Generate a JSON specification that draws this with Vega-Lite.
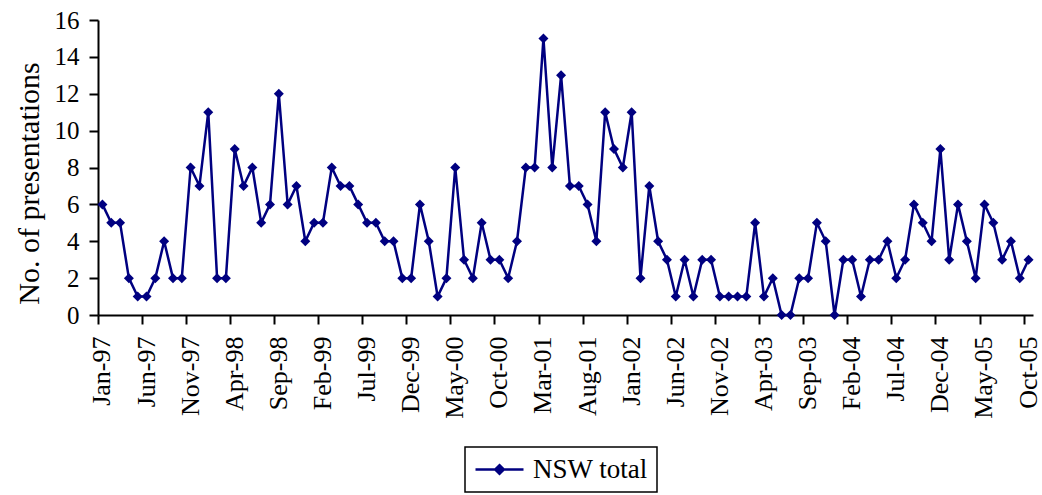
{
  "$schema": "https://vega.github.io/schema/vega-lite/v6.json",
  "width": 935,
  "height": 295,
  "autosize": "none",
  "padding": {"left": 98, "top": 20, "right": 9, "bottom": 180},
  "background": "white",
  "config": {"view": {"stroke": null}, "font": "Liberation Serif", "legend": {"strokeWidth": 1.5}},
  "data": {"values": [
    {"month":"Jan-97","value":6,"series":"NSW total"},
    {"month":"Feb-97","value":5,"series":"NSW total"},
    {"month":"Mar-97","value":5,"series":"NSW total"},
    {"month":"Apr-97","value":2,"series":"NSW total"},
    {"month":"May-97","value":1,"series":"NSW total"},
    {"month":"Jun-97","value":1,"series":"NSW total"},
    {"month":"Jul-97","value":2,"series":"NSW total"},
    {"month":"Aug-97","value":4,"series":"NSW total"},
    {"month":"Sep-97","value":2,"series":"NSW total"},
    {"month":"Oct-97","value":2,"series":"NSW total"},
    {"month":"Nov-97","value":8,"series":"NSW total"},
    {"month":"Dec-97","value":7,"series":"NSW total"},
    {"month":"Jan-98","value":11,"series":"NSW total"},
    {"month":"Feb-98","value":2,"series":"NSW total"},
    {"month":"Mar-98","value":2,"series":"NSW total"},
    {"month":"Apr-98","value":9,"series":"NSW total"},
    {"month":"May-98","value":7,"series":"NSW total"},
    {"month":"Jun-98","value":8,"series":"NSW total"},
    {"month":"Jul-98","value":5,"series":"NSW total"},
    {"month":"Aug-98","value":6,"series":"NSW total"},
    {"month":"Sep-98","value":12,"series":"NSW total"},
    {"month":"Oct-98","value":6,"series":"NSW total"},
    {"month":"Nov-98","value":7,"series":"NSW total"},
    {"month":"Dec-98","value":4,"series":"NSW total"},
    {"month":"Jan-99","value":5,"series":"NSW total"},
    {"month":"Feb-99","value":5,"series":"NSW total"},
    {"month":"Mar-99","value":8,"series":"NSW total"},
    {"month":"Apr-99","value":7,"series":"NSW total"},
    {"month":"May-99","value":7,"series":"NSW total"},
    {"month":"Jun-99","value":6,"series":"NSW total"},
    {"month":"Jul-99","value":5,"series":"NSW total"},
    {"month":"Aug-99","value":5,"series":"NSW total"},
    {"month":"Sep-99","value":4,"series":"NSW total"},
    {"month":"Oct-99","value":4,"series":"NSW total"},
    {"month":"Nov-99","value":2,"series":"NSW total"},
    {"month":"Dec-99","value":2,"series":"NSW total"},
    {"month":"Jan-00","value":6,"series":"NSW total"},
    {"month":"Feb-00","value":4,"series":"NSW total"},
    {"month":"Mar-00","value":1,"series":"NSW total"},
    {"month":"Apr-00","value":2,"series":"NSW total"},
    {"month":"May-00","value":8,"series":"NSW total"},
    {"month":"Jun-00","value":3,"series":"NSW total"},
    {"month":"Jul-00","value":2,"series":"NSW total"},
    {"month":"Aug-00","value":5,"series":"NSW total"},
    {"month":"Sep-00","value":3,"series":"NSW total"},
    {"month":"Oct-00","value":3,"series":"NSW total"},
    {"month":"Nov-00","value":2,"series":"NSW total"},
    {"month":"Dec-00","value":4,"series":"NSW total"},
    {"month":"Jan-01","value":8,"series":"NSW total"},
    {"month":"Feb-01","value":8,"series":"NSW total"},
    {"month":"Mar-01","value":15,"series":"NSW total"},
    {"month":"Apr-01","value":8,"series":"NSW total"},
    {"month":"May-01","value":13,"series":"NSW total"},
    {"month":"Jun-01","value":7,"series":"NSW total"},
    {"month":"Jul-01","value":7,"series":"NSW total"},
    {"month":"Aug-01","value":6,"series":"NSW total"},
    {"month":"Sep-01","value":4,"series":"NSW total"},
    {"month":"Oct-01","value":11,"series":"NSW total"},
    {"month":"Nov-01","value":9,"series":"NSW total"},
    {"month":"Dec-01","value":8,"series":"NSW total"},
    {"month":"Jan-02","value":11,"series":"NSW total"},
    {"month":"Feb-02","value":2,"series":"NSW total"},
    {"month":"Mar-02","value":7,"series":"NSW total"},
    {"month":"Apr-02","value":4,"series":"NSW total"},
    {"month":"May-02","value":3,"series":"NSW total"},
    {"month":"Jun-02","value":1,"series":"NSW total"},
    {"month":"Jul-02","value":3,"series":"NSW total"},
    {"month":"Aug-02","value":1,"series":"NSW total"},
    {"month":"Sep-02","value":3,"series":"NSW total"},
    {"month":"Oct-02","value":3,"series":"NSW total"},
    {"month":"Nov-02","value":1,"series":"NSW total"},
    {"month":"Dec-02","value":1,"series":"NSW total"},
    {"month":"Jan-03","value":1,"series":"NSW total"},
    {"month":"Feb-03","value":1,"series":"NSW total"},
    {"month":"Mar-03","value":5,"series":"NSW total"},
    {"month":"Apr-03","value":1,"series":"NSW total"},
    {"month":"May-03","value":2,"series":"NSW total"},
    {"month":"Jun-03","value":0,"series":"NSW total"},
    {"month":"Jul-03","value":0,"series":"NSW total"},
    {"month":"Aug-03","value":2,"series":"NSW total"},
    {"month":"Sep-03","value":2,"series":"NSW total"},
    {"month":"Oct-03","value":5,"series":"NSW total"},
    {"month":"Nov-03","value":4,"series":"NSW total"},
    {"month":"Dec-03","value":0,"series":"NSW total"},
    {"month":"Jan-04","value":3,"series":"NSW total"},
    {"month":"Feb-04","value":3,"series":"NSW total"},
    {"month":"Mar-04","value":1,"series":"NSW total"},
    {"month":"Apr-04","value":3,"series":"NSW total"},
    {"month":"May-04","value":3,"series":"NSW total"},
    {"month":"Jun-04","value":4,"series":"NSW total"},
    {"month":"Jul-04","value":2,"series":"NSW total"},
    {"month":"Aug-04","value":3,"series":"NSW total"},
    {"month":"Sep-04","value":6,"series":"NSW total"},
    {"month":"Oct-04","value":5,"series":"NSW total"},
    {"month":"Nov-04","value":4,"series":"NSW total"},
    {"month":"Dec-04","value":9,"series":"NSW total"},
    {"month":"Jan-05","value":3,"series":"NSW total"},
    {"month":"Feb-05","value":6,"series":"NSW total"},
    {"month":"Mar-05","value":4,"series":"NSW total"},
    {"month":"Apr-05","value":2,"series":"NSW total"},
    {"month":"May-05","value":6,"series":"NSW total"},
    {"month":"Jun-05","value":5,"series":"NSW total"},
    {"month":"Jul-05","value":3,"series":"NSW total"},
    {"month":"Aug-05","value":4,"series":"NSW total"},
    {"month":"Sep-05","value":2,"series":"NSW total"},
    {"month":"Oct-05","value":3,"series":"NSW total"}
  ]},
  "mark": {"type": "line", "strokeWidth": 2.5, "clip": false,
    "point": {"shape": "diamond", "size": 100, "filled": true, "color": "#000080"}},
  "encoding": {
    "x": {
      "field": "month", "type": "ordinal", "sort": null,
      "scale": {"type": "band", "paddingInner": 0, "paddingOuter": 0},
      "axis": {
        "title": null,
        "values": ["Jan-97","Jun-97","Nov-97","Apr-98","Sep-98","Feb-99","Jul-99","Dec-99","May-00","Oct-00","Mar-01","Aug-01","Jan-02","Jun-02","Nov-02","Apr-03","Sep-03","Feb-04","Jul-04","Dec-04","May-05","Oct-05"],
        "bandPosition": 0,
        "labelAngle": -90, "labelAlign": "right", "labelBaseline": "middle",
        "labelFont": "Liberation Serif", "labelFontSize": 26, "labelColor": "black",
        "labelPadding": 12, "labelOverlap": false,
        "domainColor": "black", "domainWidth": 2,
        "tickColor": "black", "tickWidth": 2, "tickSize": 9, "grid": false
      }
    },
    "y": {
      "field": "value", "type": "quantitative",
      "scale": {"domain": [0, 16], "nice": false, "zero": true},
      "axis": {
        "title": "No. of presentations",
        "titleFont": "Liberation Serif", "titleFontSize": 30, "titleFontWeight": "normal", "titleColor": "black",
        "titlePadding": 10, "titleY": 163,
        "values": [0,2,4,6,8,10,12,14,16],
        "labelFont": "Liberation Serif", "labelFontSize": 25, "labelColor": "black",
        "labelPadding": 10,
        "domainColor": "black", "domainWidth": 2,
        "tickColor": "black", "tickWidth": 2, "tickSize": 9, "grid": false
      }
    },
    "color": {
      "field": "series", "type": "nominal",
      "scale": {"range": ["#000080"]},
      "legend": {
        "title": null, "orient": "none", "legendX": 367, "legendY": 427,
        "direction": "vertical",
        "strokeColor": "black", "padding": 9,
        "labelFont": "Liberation Serif", "labelFontSize": 27, "labelColor": "black",
        "symbolType": "M-1,0L3,0M1,-0.36L1.36,0L1,0.36L0.64,0Z",
        "symbolSize": 576, "symbolStrokeWidth": 2.5,
        "symbolFillColor": "#000080", "symbolStrokeColor": "#000080",
        "labelOffset": 32
      }
    }
  }
}
